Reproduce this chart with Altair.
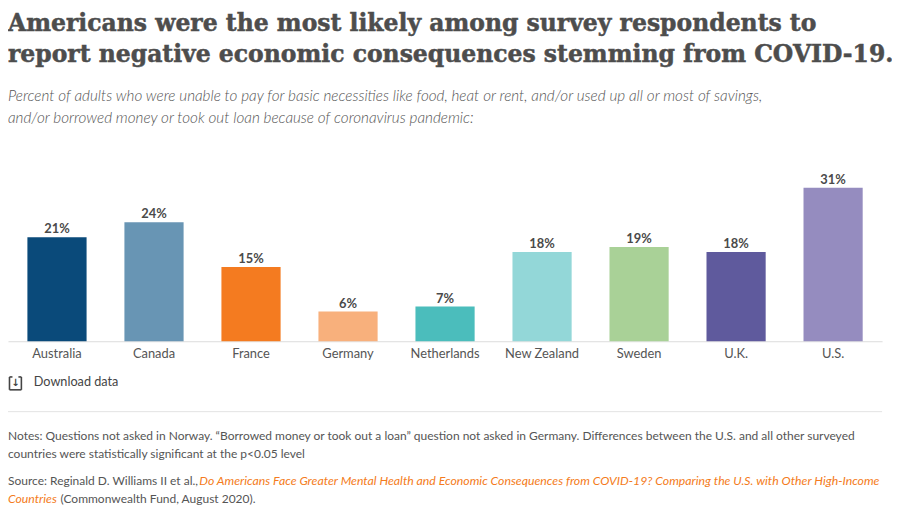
import altair as alt
import pandas as pd

countries = ["Australia", "Canada", "France", "Germany", "Netherlands",
             "New Zealand", "Sweden", "U.K.", "U.S."]
values = [21, 24, 15, 6, 7, 18, 19, 18, 31]
bar_colors = ["#0a4a7a", "#6895b4", "#f47b20", "#f8b07c", "#4bbdbc",
              "#93d7d8", "#a9d197", "#5f5a9d", "#958cbf"]

title_lines = [
    "Americans were the most likely among survey respondents to",
    "report negative economic consequences stemming from COVID-19.",
]
subtitle_lines = [
    "Percent of adults who were unable to pay for basic necessities like food, heat or rent, and/or used up all or most of savings,",
    "and/or borrowed money or took out loan because of coronavirus pandemic:",
]
notes_lines = [
    "Notes: Questions not asked in Norway. \u201cBorrowed money or took out a loan\u201d question not asked in Germany. Differences between the U.S. and all other surveyed",
    "countries were  statistically significant at the p<0.05 level",
]
source_prefix = "Source: Reginald D. Williams II et al.,"
source_link_1 = "Do Americans Face Greater Mental Health and Economic Consequences from COVID-19? Comparing the U.S. with Other High-Income"
source_link_2 = "Countries"
source_suffix = "(Commonwealth Fund, August 2020)."

df = pd.DataFrame({
    "country": countries,
    "value": values,
    "label": [f"{v}%" for v in values],
})

one = alt.Data(values=[{}])
GRAY = "#555555"
FONT = "Lato"

x_enc = alt.X("country:N", sort=countries, title=None,
              scale=alt.Scale(paddingInner=0.39, paddingOuter=0.2),
              axis=alt.Axis(labelAngle=0, ticks=False, domainColor="#dcdcdc",
                            domainWidth=1, labelFont=FONT, labelFontSize=13,
                            labelColor=GRAY, labelPadding=6))
y_enc = alt.Y("value:Q", scale=alt.Scale(domain=[0, 35]), axis=None)

bars = alt.Chart(df).mark_bar().encode(
    x=x_enc, y=y_enc,
    color=alt.Color("country:N", sort=countries,
                    scale=alt.Scale(domain=countries, range=bar_colors),
                    legend=None),
)
labels = alt.Chart(df).mark_text(
    dy=-4, baseline="alphabetic", font=FONT, fontWeight="bold",
    fontSize=13, color="#4a4a4a"
).encode(x=alt.X("country:N", sort=countries), y="value:Q", text="label:N")


def txt(text, x, y, size, color=GRAY, font=FONT, weight="normal",
        style="normal", **kw):
    return alt.Chart(one).mark_text(
        align="left", baseline="alphabetic", font=font, fontSize=size,
        fontWeight=weight, fontStyle=style, color=color, **kw
    ).encode(x=alt.value(x), y=alt.value(y), text=alt.value(text))


def seg(x1, y1, x2, y2, color="#444444", w=1.6):
    return alt.Chart(one).mark_rule(color=color, strokeWidth=w).encode(
        x=alt.value(x1), y=alt.value(y1), x2=alt.value(x2), y2=alt.value(y2))


layers = [bars, labels]
# title
for i, line in enumerate(title_lines):
    layers.append(txt(line, 0, -138 + 31 * i, 23.7, color="#4d4d4d",
                      font="DejaVu Serif", weight="bold",
                      stroke="#4d4d4d", strokeWidth=0.5))
# subtitle
layers.append(txt(subtitle_lines[0], 0, -67, 15.4, style="italic", weight=300))
layers.append(txt(subtitle_lines[1], 0, -45, 15.4, style="italic", weight=300))
# download icon
layers += [
    seg(1.5, 211, 1.5, 224), seg(13.5, 211, 13.5, 224), seg(1.5, 224, 13.5, 224),
    seg(1.5, 211, 4.5, 211), seg(10.5, 211, 13.5, 211),
]
layers.append(alt.Chart(one).mark_text(
    align="center", baseline="middle", font="DejaVu Sans", fontSize=10,
    fontWeight="bold", color="#444444"
).encode(x=alt.value(7.5), y=alt.value(217), text=alt.value("\u2193")))
layers.append(txt("Download data", 26, 220, 12.8, color="#444444"))
# separator
layers.append(seg(0, 246, 882, 246, color="#e3e3e3", w=1))
# notes and source
layers.append(txt(notes_lines[0], 0, 275, 12.1))
layers.append(txt(notes_lines[1], 0, 293, 12.1))
layers.append(txt(source_prefix, 0, 320, 12.1))
layers.append(txt(source_link_1, 193, 320, 12.4, color="#f47b20", style="italic"))
layers.append(txt(source_link_2, 0, 338, 12.4, color="#f47b20", style="italic"))
layers.append(txt(source_suffix, 53, 338, 12.1))

chart = alt.layer(*layers).properties(
    width=882, height=175,
    autosize=alt.AutoSizeParams(type="none"),
    padding={"left": 0, "top": 159, "right": 10, "bottom": 170},
).configure(background="white").configure_view(stroke=None, strokeWidth=0)

chart.save("out.html", embed_options={"renderer": "svg", "actions": False})
